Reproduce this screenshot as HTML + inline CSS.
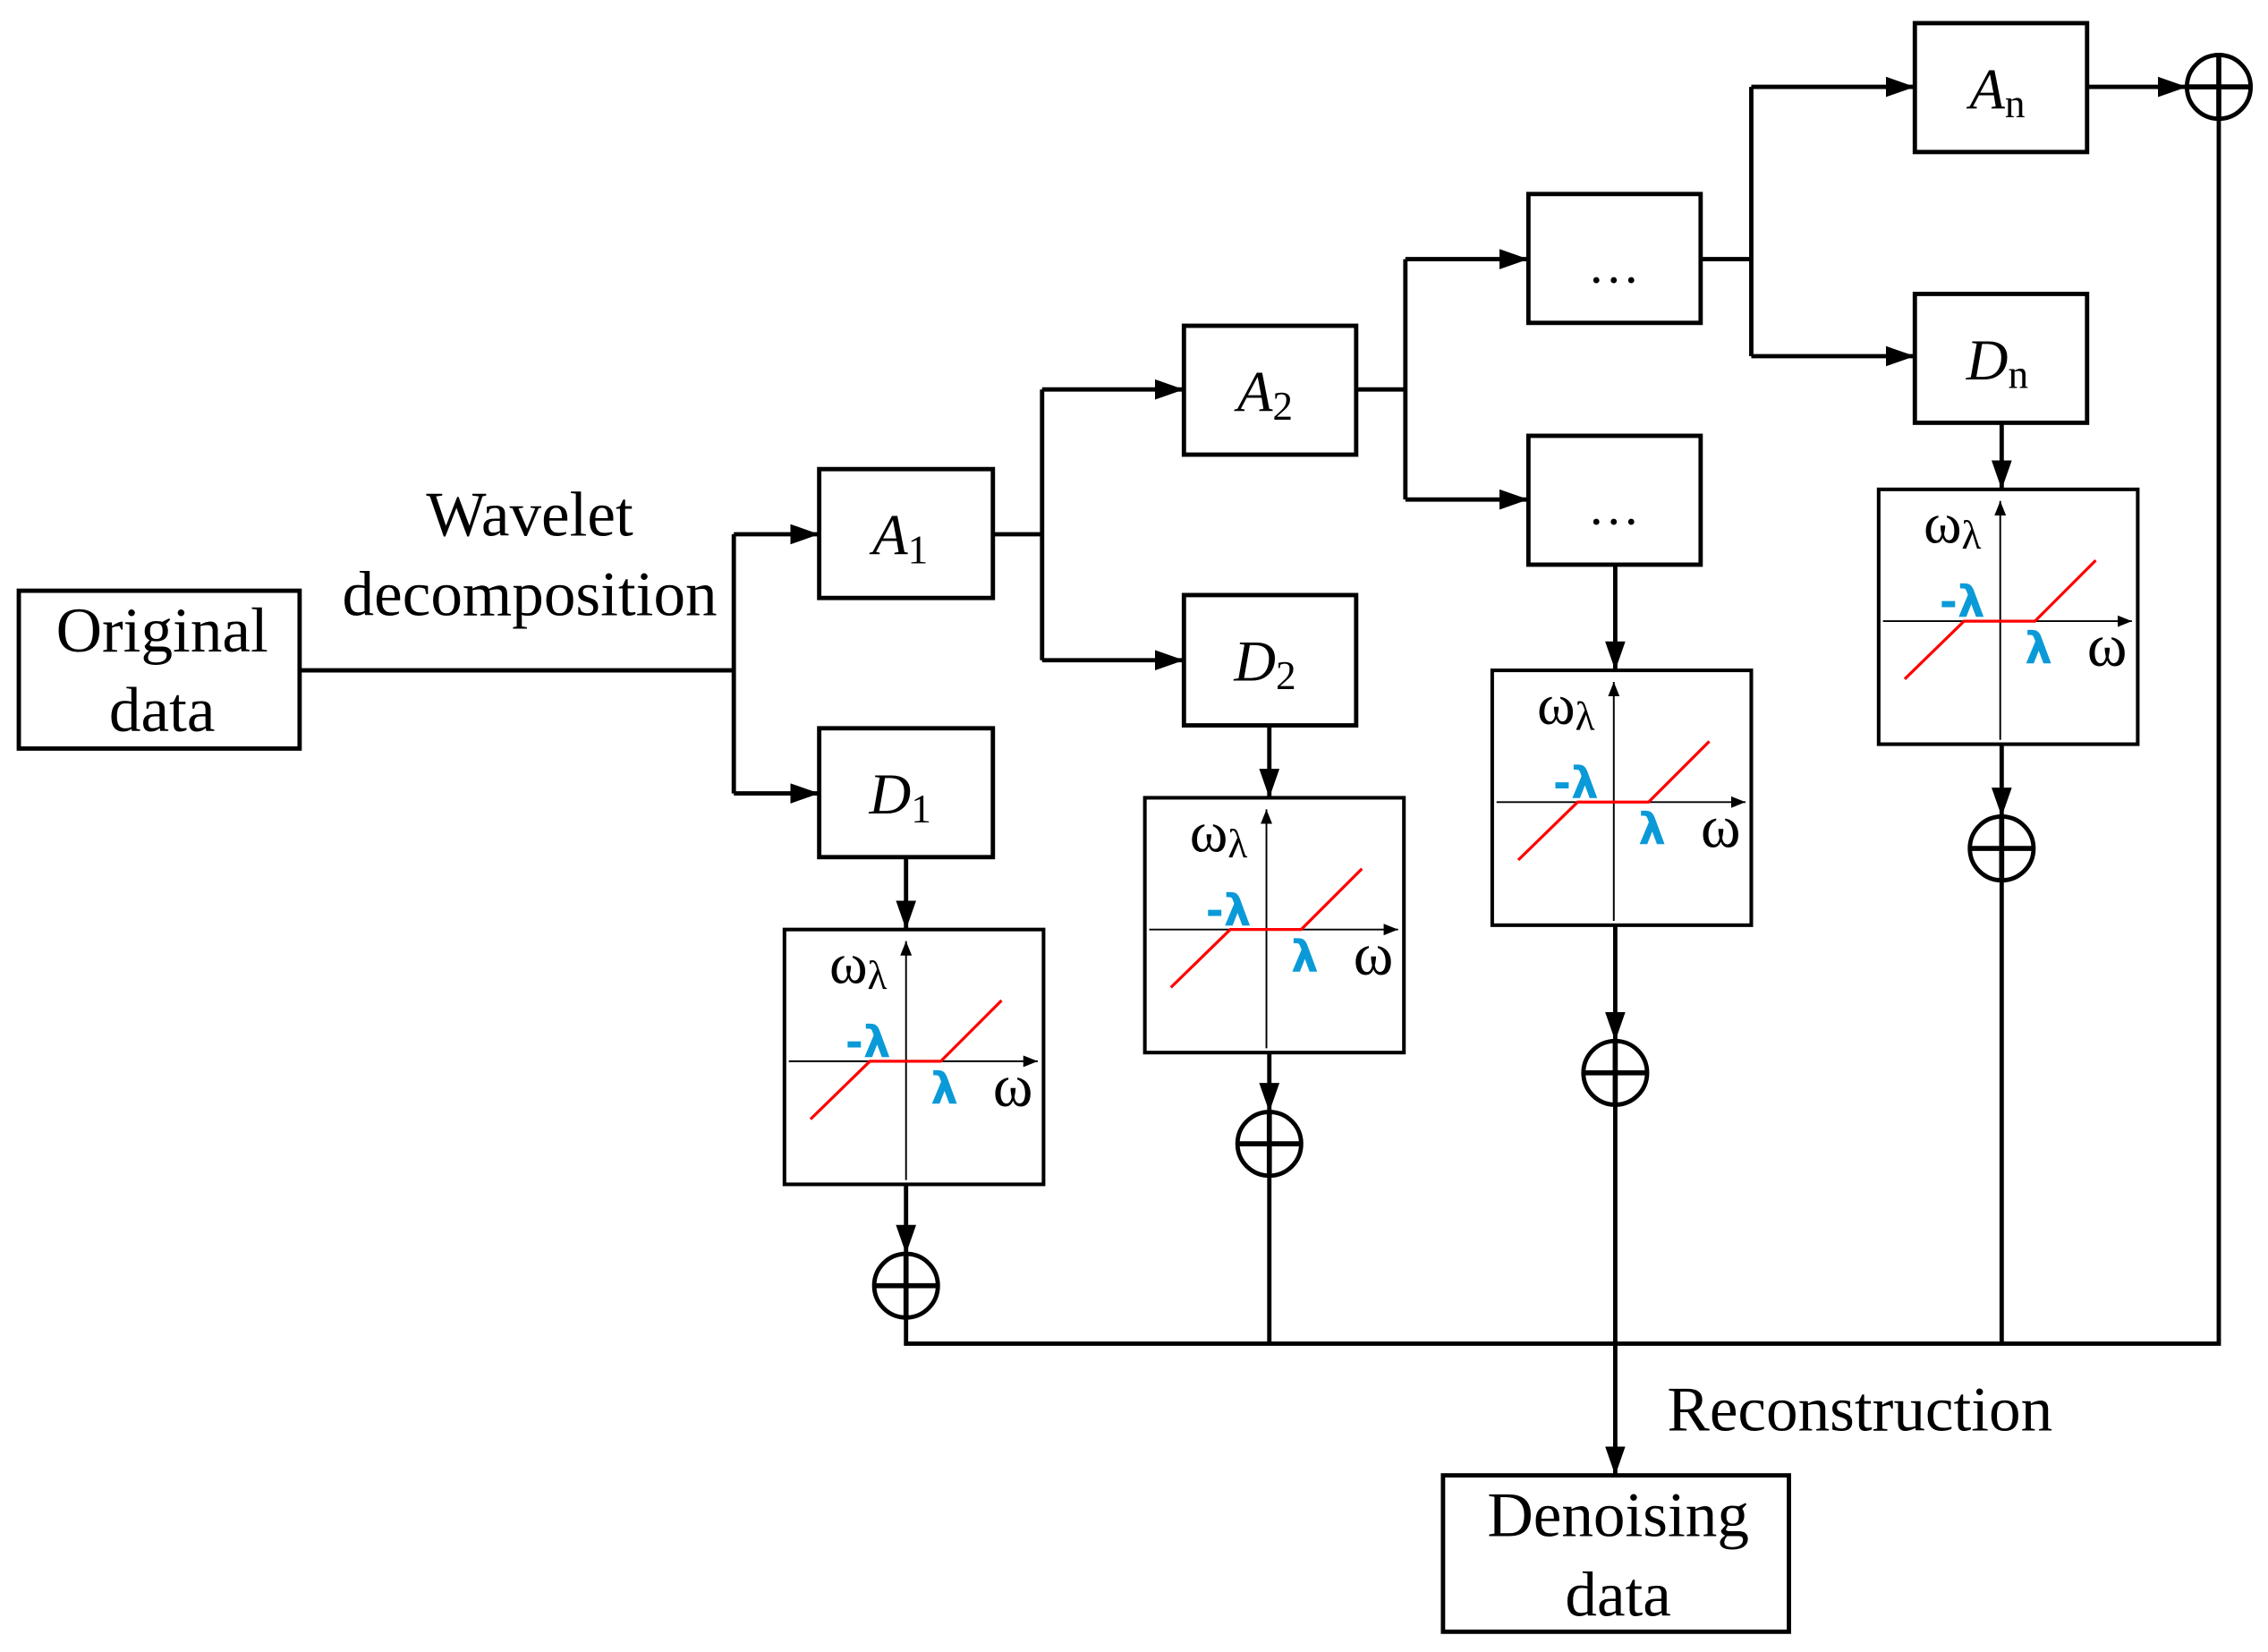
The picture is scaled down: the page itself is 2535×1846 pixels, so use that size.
<!DOCTYPE html>
<html><head><style>html,body{margin:0;padding:0;background:#fff}svg{display:block}</style></head>
<body>
<svg width="2535" height="1846" viewBox="0 0 1567 1141" preserveAspectRatio="none" xmlns="http://www.w3.org/2000/svg" font-family="Liberation Serif, serif">
<defs>
<marker id="ar" markerWidth="10" markerHeight="8" refX="10" refY="4" orient="auto" markerUnits="userSpaceOnUse"><path d="M0,0 L10,4 L0,8 Z" fill="#000"/></marker>
<marker id="ar2" markerWidth="20" markerHeight="14" refX="20" refY="7" orient="auto" markerUnits="userSpaceOnUse"><path d="M0,0 L20,7 L0,14 Z" fill="#000"/></marker>
<g id="plot">
<rect x="0" y="0" width="179" height="176" fill="#fff" stroke="#000" stroke-width="2.5"/>
<line x1="3" y1="91" x2="175" y2="91" stroke="#000" stroke-width="1.2" marker-end="url(#ar)"/>
<line x1="84" y1="173" x2="84" y2="8" stroke="#000" stroke-width="1.2" marker-end="url(#ar)"/>
<polyline points="18,131 59,91 108,91 150,49" fill="none" stroke="#f00" stroke-width="2"/>
<text x="31" y="37" font-size="40">ω<tspan font-size="28" dy="4">λ</tspan></text>
<text x="42" y="88" font-size="30" fill="#0a9ad8" font-family="DejaVu Sans, sans-serif" font-weight="bold">-λ</text>
<text x="101" y="120" font-size="30" fill="#0a9ad8" font-family="DejaVu Sans, sans-serif" font-weight="bold">λ</text>
<text x="144" y="122" font-size="42">ω</text>
</g>
<g id="sum"><circle cx="0" cy="0" r="22" fill="#fff" stroke="#000" stroke-width="3"/><line x1="-22" y1="0" x2="22" y2="0" stroke="#000" stroke-width="3.5"/><line x1="0" y1="-22" x2="0" y2="22" stroke="#000" stroke-width="3.5"/></g>
</defs>
<g stroke="#000" stroke-width="3" fill="none">
<path d="M207,463 H507 M507,369 V548"/>
<path d="M507,369 H566" marker-end="url(#ar2)"/><path d="M507,548 H566" marker-end="url(#ar2)"/>
<path d="M686,369 H720 M720,269 V456"/>
<path d="M720,269 H818" marker-end="url(#ar2)"/><path d="M720,456 H818" marker-end="url(#ar2)"/>
<path d="M937,269 H971 M971,179 V345"/>
<path d="M971,179 H1056" marker-end="url(#ar2)"/><path d="M971,345 H1056" marker-end="url(#ar2)"/>
<path d="M1175,179 H1210 M1210,60 V246"/>
<path d="M1210,60 H1323" marker-end="url(#ar2)"/><path d="M1210,246 H1323" marker-end="url(#ar2)"/>
<path d="M1442,60 H1511" marker-end="url(#ar2)"/>
<path d="M626,592 V642" marker-end="url(#ar2)"/><path d="M626,818 V866" marker-end="url(#ar2)"/>
<path d="M877,501 V551" marker-end="url(#ar2)"/><path d="M877,727 V768" marker-end="url(#ar2)"/>
<path d="M1116,390 V463" marker-end="url(#ar2)"/><path d="M1116,639 V719" marker-end="url(#ar2)"/>
<path d="M1383,292 V338" marker-end="url(#ar2)"/><path d="M1383,514 V564" marker-end="url(#ar2)"/>
<path d="M626,910 V928 H1533 V82"/>
<path d="M877,812 V928 M1383,608 V928 M1116,763 V928"/>
<path d="M1116,928 V1019" marker-end="url(#ar2)"/>
</g>
<g fill="#fff" stroke="#000" stroke-width="3">
<rect x="13" y="408" width="194" height="109"/>
<rect x="997" y="1019" width="239" height="108"/>
<rect x="566" y="324" width="120" height="89"/>
<rect x="566" y="503" width="120" height="89"/>
<rect x="818" y="225" width="119" height="89"/>
<rect x="818" y="411" width="119" height="90"/>
<rect x="1056" y="134" width="119" height="89"/>
<rect x="1056" y="301" width="119" height="89"/>
<rect x="1323" y="16" width="119" height="89"/>
<rect x="1323" y="203" width="119" height="89"/>
</g>
<use href="#plot" x="542" y="642"/>
<use href="#plot" x="791" y="551"/>
<use href="#plot" x="1031" y="463"/>
<use href="#plot" x="1298" y="338"/>
<use href="#sum" x="626" y="888"/>
<use href="#sum" x="877" y="790"/>
<use href="#sum" x="1116" y="741"/>
<use href="#sum" x="1383" y="586"/>
<use href="#sum" x="1533" y="60"/>
<g font-size="44" text-anchor="middle">
<text x="366" y="370">Wavelet</text>
<text x="366" y="425">decomposition</text>
<text x="112" y="450">Original</text>
<text x="112" y="505">data</text>
<text x="1118" y="1061">Denoising</text>
<text x="1118" y="1116">data</text>
<text x="1285" y="988">Reconstruction</text>
<g font-style="italic" font-size="40">
<text x="622" y="383">A<tspan font-style="normal" font-size="28" dy="6">1</tspan></text>
<text x="622" y="562">D<tspan font-style="normal" font-size="28" dy="6">1</tspan></text>
<text x="874" y="284">A<tspan font-style="normal" font-size="28" dy="6">2</tspan></text>
<text x="874" y="470">D<tspan font-style="normal" font-size="28" dy="6">2</tspan></text>
<text x="1380" y="75">A<tspan font-style="normal" font-size="28" dy="6">n</tspan></text>
<text x="1380" y="262">D<tspan font-style="normal" font-size="28" dy="6">n</tspan></text>
</g>
<text x="1115" y="195" font-size="36">…</text>
<text x="1115" y="362" font-size="36">…</text>
</g>
</svg>
</body></html>
